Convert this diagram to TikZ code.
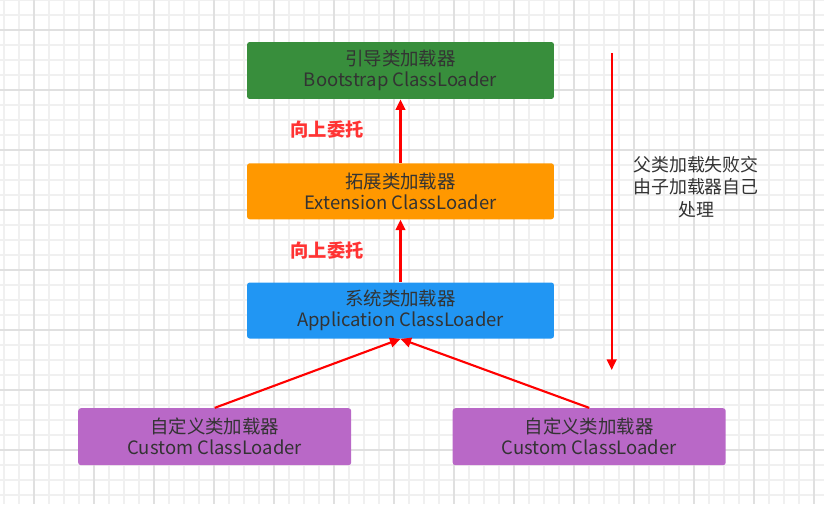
\documentclass[tikz,border=0pt]{standalone}
\usepackage{fontspec}
\setmainfont{Noto Sans CJK SC}
\usetikzlibrary{positioning}
\usetikzlibrary{arrows.meta}
\definecolor{gridminor}{HTML}{F0F0F0}
\definecolor{gridmajor}{HTML}{E0E0E0}
\definecolor{bootgreen}{HTML}{388E3C}
\definecolor{extorange}{HTML}{FF9800}
\definecolor{appblue}{HTML}{2196F3}
\definecolor{custpurple}{HTML}{B968C7}
\definecolor{txtgray}{HTML}{333333}
\definecolor{labelred}{HTML}{FF3333}

\begin{document}
\begin{tikzpicture}[x=0.02cm,y=-0.02cm,
    loader/.style={rounded corners=1.5pt,text=txtgray,align=center,
      font=\fontsize{10.5pt}{12pt}\selectfont,inner sep=0pt},
    upward/.style={red,line width=1.2pt,-{Triangle[length=6pt,width=5.5pt]}},
    tag/.style={text=labelred,font=\fontsize{10.4pt}{12pt}\selectfont\bfseries}]
    \useasboundingbox (0,0) rectangle (824,504);
    % grid
    \foreach \gx in {4,19,...,814} \draw[gridminor,line width=0.6pt] (\gx,0) -- (\gx,504);
    \foreach \gy in {0,15,...,504} \draw[gridminor,line width=0.6pt] (0,\gy) -- (824,\gy);
    \foreach \gx in {34,94,...,814} \draw[gridmajor,line width=0.6pt] (\gx,0) -- (\gx,504);
    \foreach \gy in {30,90,...,504} \draw[gridmajor,line width=0.6pt] (0,\gy) -- (824,\gy);

    \node[loader,fill=bootgreen,minimum width=6.14cm,minimum height=1.14cm] (boot) at (400.5,70.5) {引导类加载器\\Bootstrap ClassLoader};
    \node[loader,fill=extorange,minimum width=6.14cm,minimum height=1.12cm] (ext) at (400.5,191.3) {拓展类加载器\\Extension ClassLoader};
    \node[loader,fill=appblue,minimum width=6.14cm,minimum height=1.12cm] (app) at (400.5,310.5) {系统类加载器\\Application ClassLoader};
    \node[loader,fill=custpurple,minimum width=5.46cm,minimum height=1.14cm] (cust1) at (214.7,436.7) {自定义类加载器\\Custom ClassLoader};
    \node[loader,fill=custpurple,minimum width=5.46cm,minimum height=1.14cm] (cust2) at (589.2,436.7) {自定义类加载器\\Custom ClassLoader};

    \node[tag] (up1) at (327,130) {向上委托};
    \node[tag] (up2) at (327,251) {向上委托};

    \draw[upward] (ext) -- (boot);
    \draw[upward] (app) -- (ext);
    \draw[upward] (cust1.north) -- (app.south);
    \draw[upward] (cust2.north) -- (app.south);

    \coordinate (failtop) at (611.7,53);
    \coordinate (failbot) at (611.7,370);
    \draw[upward] (failtop) -- (failbot);
    \node[loader,font=\fontsize{10.2pt}{12.8pt}\selectfont] (failnote) at (696,187) {父类加载失败交\\由子加载器自己\\处理};
  \end{tikzpicture}
\end{document}
